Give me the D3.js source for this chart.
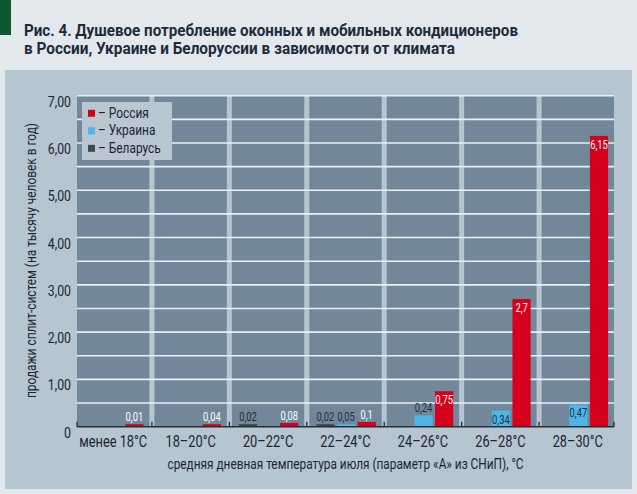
<!DOCTYPE html>
<html>
<head>
<meta charset="utf-8">
<script src="https://cdn.jsdelivr.net/npm/d3@7"></script>
<style>
  html, body { margin: 0; padding: 0; background: #e3e8ec; }
  svg { display: block; }
  text { font-family: "Liberation Sans Narrow", "Arial Narrow", "Roboto", sans-serif; }
</style>
</head>
<body>
<svg id="chart" width="637" height="494"></svg>
<script>
const categories = ['менее 18°C', '18–20°C', '20–22°C', '22–24°C', '24–26°C', '26–28°C', '28–30°C']
const seriesNames = ['Беларусь', 'Украина', 'Россия']
// null = no bar in that group
const belarus = [null, null, 0.02, 0.02, null, null, null]
const ukraine = [null, null, null, 0.05, 0.24, 0.34, 0.47]
const russia = [0.01, 0.04, 0.08, 0.1, 0.75, 2.7, 6.15]
const yTicks = [0, 1, 2, 3, 4, 5, 6, 7]

const colors = { 'Россия': '#d7001c', 'Украина': '#4cb6e6', 'Беларусь': '#41474d' }
const labelColors = { 'Россия': '#ffffff', 'Украина': '#1d3045', 'Беларусь': '#262c33' }

const svg = d3.select('#chart')
const width = 637, height = 494
const margin = { top: 95.7, right: 23, bottom: 67.3, left: 77 }
const contentWidth = width - margin.left - margin.right
const contentHeight = height - margin.top - margin.bottom

// squeeze text horizontally, the original uses a condensed face
function condense(sel, factor, fixed) {
    sel.each(function () {
        const len = fixed || this.getComputedTextLength() * factor
        d3.select(this).attr('textLength', len).attr('lengthAdjust', 'spacingAndGlyphs')
    })
}

// page background, green mark and panel
svg.append('rect').attr('width', width).attr('height', height).attr('fill', '#e3e8ec')
svg.append('rect').attr('x', 0).attr('y', 0).attr('width', 11).attr('height', 35).attr('fill', '#0e5733')
svg.append('rect').attr('x', 5).attr('y', 70).attr('width', 627).attr('height', 419).attr('fill', '#b6c6d1')

// title
const titleLines = [
    { text: 'Рис. 4. Душевое потребление оконных и мобильных кондиционеров', y: 35.5, len: 494 },
    { text: 'в России, Украине и Белоруссии в зависимости от климата', y: 53.5, len: 431 }
]
titleLines.forEach(l => {
    svg.append('text')
        .attr('x', 24)
        .attr('y', l.y)
        .attr('fill', '#1b2c3d')
        .style('font-size', '16.5px')
        .style('font-weight', 'bold')
        .text(l.text)
        .call(condense, 1, l.len)
})

const g = svg.append('g')
    .attr('transform', `translate(${margin.left},${margin.top})`)

// scales
const x = d3.scaleBand()
    .domain(categories)
    .range([0, contentWidth])
    .paddingInner(0.065)
    .paddingOuter(0)

const xSub = d3.scaleBand()
    .domain(seriesNames)
    .range([7, 66.5])
    .paddingInner(0.12)

const y = d3.scaleLinear()
    .domain([0, 7])
    .range([contentHeight, 0])

// column backgrounds
g.selectAll('.col')
    .data(categories)
    .enter()
    .append('rect')
    .attr('x', d => x(d))
    .attr('y', 0)
    .attr('width', x.bandwidth())
    .attr('height', contentHeight)
    .attr('fill', '#72879a')

// gridlines every 0.5
g.selectAll('.grid')
    .data(d3.range(1, 15).map(i => i * 0.5))
    .enter()
    .append('line')
    .attr('x1', 0)
    .attr('x2', contentWidth)
    .attr('y1', d => y(d))
    .attr('y2', d => y(d))
    .attr('stroke', '#e9eff3')
    .attr('stroke-width', 1.6)

// y tick labels (hang below their gridline)
g.selectAll('.ytick')
    .data(yTicks)
    .enter()
    .append('text')
    .attr('x', -6)
    .attr('y', d => y(d) + 11)
    .attr('text-anchor', 'end')
    .attr('fill', '#1b2530')
    .style('font-size', '14.5px')
    .text(d => d === 0 ? '0' : d3.format('.2f')(d).replace('.', ','))
    .call(condense, 0.85)

// y title
svg.append('text')
    .attr('transform', 'translate(36,260.5) rotate(-90)')
    .attr('text-anchor', 'middle')
    .attr('fill', '#1b2530')
    .style('font-size', '14.5px')
    .text('продажи сплит-систем (на тысячу человек в год)')
    .call(condense, 1, 275)

// bars
const rows = []
categories.forEach((c, i) => {
    const vals = { 'Беларусь': belarus[i], 'Украина': ukraine[i], 'Россия': russia[i] }
    seriesNames.forEach(s => {
        if (vals[s] != null) rows.push({ cat: c, series: s, value: vals[s] })
    })
})

const barTop = d => Math.min(y(d.value), contentHeight - 2.5)

g.selectAll('.bar')
    .data(rows)
    .enter()
    .append('rect')
    .attr('x', d => x(d.cat) + xSub(d.series))
    .attr('y', d => barTop(d))
    .attr('width', xSub.bandwidth())
    .attr('height', d => contentHeight - barTop(d))
    .attr('fill', d => colors[d.series])

// bar value labels
g.selectAll('.vlabel')
    .data(rows)
    .enter()
    .append('text')
    .attr('x', d => x(d.cat) + xSub(d.series) + xSub.bandwidth() / 2)
    .attr('y', d => d.value >= 0.3 ? barTop(d) + 13 : barTop(d) - 3)
    .attr('text-anchor', 'middle')
    .attr('fill', d => labelColors[d.series])
    .style('font-size', '12px')
    .text(d => String(d.value).replace('.', ','))
    .call(condense, 0.78)

// baseline and boundary ticks
g.append('line')
    .attr('x1', 0).attr('x2', contentWidth)
    .attr('y1', contentHeight).attr('y2', contentHeight)
    .attr('stroke', '#262d34').attr('stroke-width', 1.5)

const tickXs = categories.map(c => x(c) - x.step() * x.paddingInner() / 2)
tickXs[0] = 0
tickXs.push(contentWidth)
g.selectAll('.btick')
    .data(tickXs)
    .enter()
    .append('line')
    .attr('x1', d => d).attr('x2', d => d)
    .attr('y1', contentHeight - 5).attr('y2', contentHeight)
    .attr('stroke', '#262d34').attr('stroke-width', 1.3)

// x category labels
g.selectAll('.xlabel')
    .data(categories)
    .enter()
    .append('text')
    .attr('x', d => x(d) + x.bandwidth() / 2)
    .attr('y', contentHeight + 20.5)
    .attr('text-anchor', 'middle')
    .attr('fill', '#1b2530')
    .style('font-size', '16px')
    .text(d => d)
    .call(condense, 0.8)

// x title
svg.append('text')
    .attr('x', margin.left + contentWidth / 2)
    .attr('y', 469)
    .attr('text-anchor', 'middle')
    .attr('fill', '#1b2530')
    .style('font-size', '14.5px')
    .text('средняя дневная температура июля (параметр «А» из СНиП), °C')
    .call(condense, 1, 356)

// legend
const legend = svg.append('g').attr('transform', 'translate(82,102)')
legend.append('rect').attr('width', 90).attr('height', 58).attr('fill', '#b8c7d2')
const legendOrder = ['Россия', 'Украина', 'Беларусь']
legendOrder.forEach((s, i) => {
    const cy = 11.3 + i * 17.5
    legend.append('rect')
        .attr('x', 6).attr('y', cy - 3.5)
        .attr('width', 7).attr('height', 7)
        .attr('fill', colors[s])
    legend.append('text')
        .attr('x', 16).attr('y', cy + 4.5)
        .attr('fill', '#1b2530')
        .style('font-size', '14px')
        .text('– ' + s)
        .call(condense, 0.85)
})
</script>
</body>
</html>
